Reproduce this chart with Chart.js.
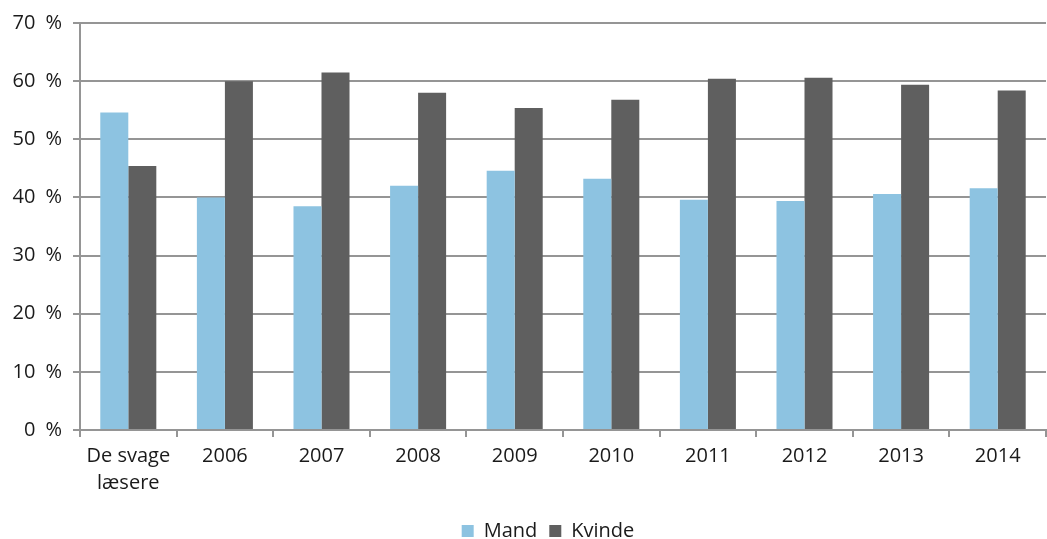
<!DOCTYPE html>
<html>
<head>
<meta charset="utf-8">
<script src="https://cdn.jsdelivr.net/npm/chart.js@4/dist/chart.umd.min.js"></script>
<style>
  html, body { margin: 0; padding: 0; background: #fff; }
  #wrap { width: 1047px; height: 539px; }
</style>
</head>
<body>
<div id="wrap"><canvas id="chart" width="1047" height="539"></canvas></div>
<script>
// Data
const categories = [["De svage", "læsere"], "2006", "2007", "2008", "2009", "2010", "2011", "2012", "2013", "2014"];
const mand = [54.6, 40.0, 38.5, 42.0, 44.6, 43.2, 39.6, 39.4, 40.6, 41.6];
const kvinde = [45.4, 60.0, 61.5, 58.0, 55.4, 56.8, 60.4, 60.6, 59.4, 58.4];
const yTicks = [0, 10, 20, 30, 40, 50, 60, 70];

const gridColor = "#959595";
const textColor = "#1a1a1a";
const fontFamily = "'Open Sans', 'Noto Sans', sans-serif";

// legend in the original is centred a bit right of the canvas middle
const shiftLegend = {
    id: "shiftLegend",
    afterLayout(chart) {
        chart.legend.left += 50;
    },
};

let chart = new Chart("chart", {
    type: "bar",
    data: {
        labels: categories,
        datasets: [
            { label: "Mand", data: mand, backgroundColor: "#8dc3e1" },
            { label: "Kvinde", data: kvinde, backgroundColor: "#5f5f5f" },
        ],
    },
    plugins: [shiftLegend],
    options: {
        responsive: false,
        animation: false,
        devicePixelRatio: 1,
        // negative bottom padding pushes the legend row down to the canvas edge
        layout: { padding: { top: 14, right: 1, left: 0, bottom: -12 } },
        datasets: {
            bar: { categoryPercentage: 0.58, barPercentage: 1.0 },
        },
        plugins: {
            tooltip: { enabled: false },
            legend: {
                position: "bottom",
                labels: {
                    color: textColor,
                    font: { family: fontFamily, size: 20 },
                    boxWidth: 12,
                    boxHeight: 12,
                    padding: 12,
                },
            },
        },
        scales: {
            x: {
                afterFit: (scale) => { scale.height = 79; },
                grid: {
                    drawOnChartArea: false,
                    drawTicks: true,
                    tickLength: 7,
                    color: gridColor,
                    lineWidth: 2,
                },
                border: { color: gridColor, width: 2 },
                ticks: {
                    color: textColor,
                    font: { family: fontFamily, size: 20, lineHeight: 1.35 },
                    padding: 6,
                    maxRotation: 0,
                },
            },
            y: {
                min: 0,
                max: 70,
                afterFit: (scale) => { scale.width = 80; },
                afterBuildTicks: (scale) => { scale.ticks = yTicks.map(v => ({ value: v })); },
                grid: {
                    color: gridColor,
                    lineWidth: 2,
                    tickLength: 7,
                },
                border: { color: gridColor, width: 2 },
                ticks: {
                    color: textColor,
                    font: { family: fontFamily, size: 20 },
                    padding: 11,
                    callback: (v) => v + "\u2002%",
                },
            },
        },
    },
});
</script>
</body>
</html>
